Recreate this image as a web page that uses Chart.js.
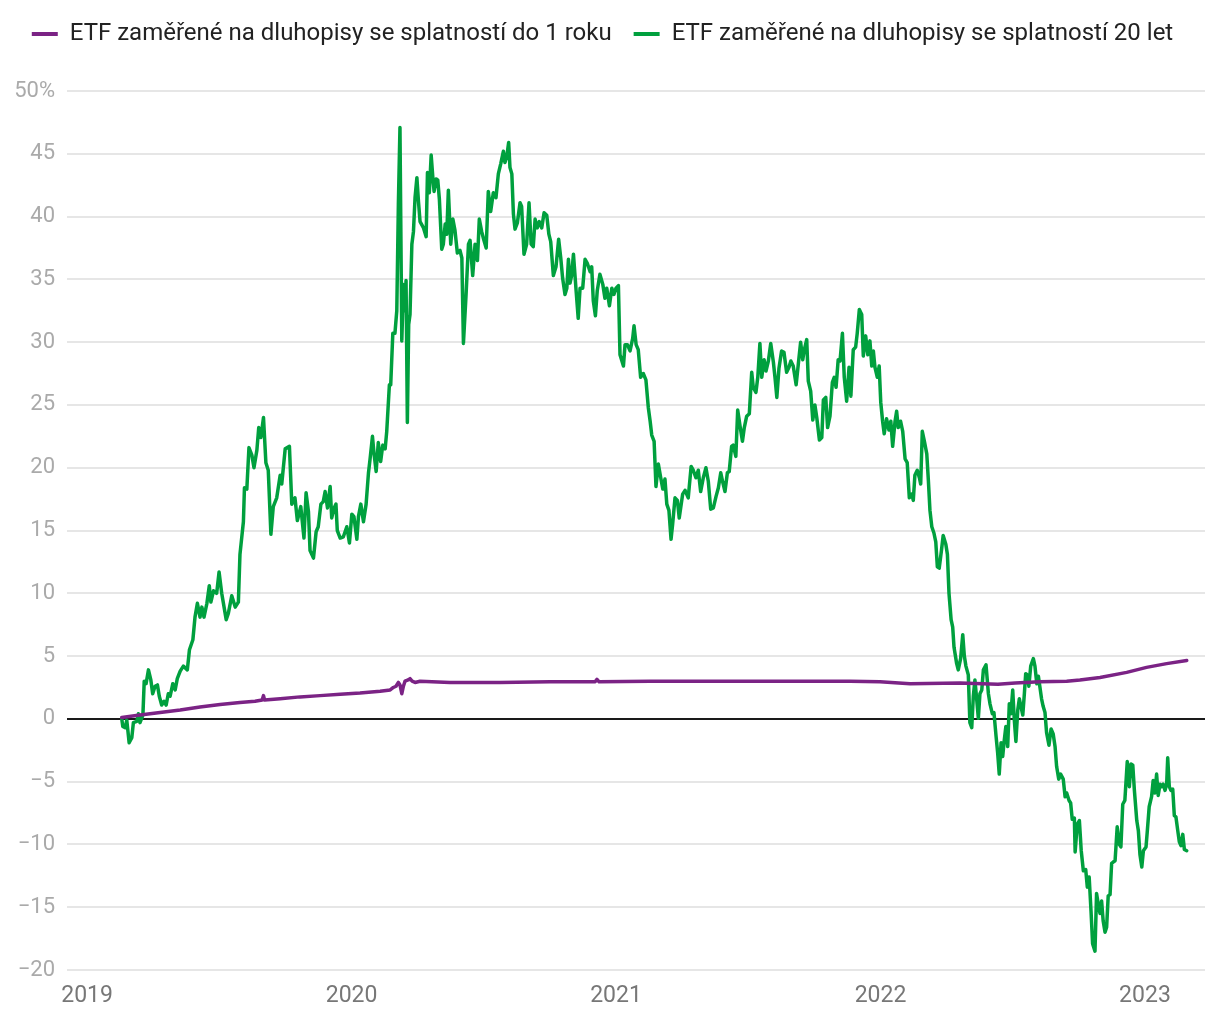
<!DOCTYPE html>
<html lang="cs">
<head>
<meta charset="utf-8">
<title>ETF zaměřené na dluhopisy</title>
<script src="https://cdn.jsdelivr.net/npm/chart.js@4.4.1/dist/chart.umd.min.js"></script>
<style>
  html, body { margin: 0; padding: 0; background: #fff; }
  #wrap { width: 1220px; height: 1020px; }
</style>
</head>
<body>
<div id="wrap"><canvas id="graf" width="1220" height="1020"></canvas></div>
<script>
// --- popisky a osy
const nazevKratke = "ETF zaměřené na dluhopisy se splatností do 1 roku";
const nazevDlouhe = "ETF zaměřené na dluhopisy se splatností 20 let";
const roky = [2019, 2020, 2021, 2022, 2023];
const osaYmin = -20, osaYmax = 50, osaYkrok = 5;

// --- ETF do 1 roku (čas v letech, výnos v %)
const kratkeCas = [2019.131, 2019.200, 2019.276, 2019.352, 2019.427, 2019.503, 2019.578, 2019.635,
  2019.662, 2019.667, 2019.671, 2019.730, 2019.805, 2019.881, 2019.957, 2020.032, 2020.108,
  2020.146, 2020.158, 2020.168, 2020.177, 2020.183, 2020.190, 2020.196, 2020.202, 2020.214,
  2020.221, 2020.229, 2020.240, 2020.259, 2020.372, 2020.561, 2020.751, 2020.921, 2020.928,
  2020.936, 2021.129, 2021.319, 2021.507, 2021.696, 2021.885, 2021.998, 2022.112, 2022.301,
  2022.444, 2022.509, 2022.603, 2022.704, 2022.754, 2022.830, 2022.931, 2023.006, 2023.082, 2023.158];
const kratkeHodnoty = [0.1, 0.3, 0.5, 0.7, 0.95, 1.15, 1.3, 1.4,
  1.5, 1.85, 1.5, 1.6, 1.75, 1.85, 1.95, 2.05, 2.2,
  2.3, 2.5, 2.6, 2.9, 2.7, 2.0, 2.6, 3.0, 3.1,
  3.2, 3.0, 2.9, 3.0, 2.9, 2.9, 2.95, 2.95, 3.15,
  2.95, 3.0, 3.0, 3.0, 3.0, 3.0, 2.95, 2.8, 2.85,
  2.75, 2.85, 2.95, 3.0, 3.1, 3.3, 3.7, 4.1, 4.4, 4.65];

// --- ETF 20 let (čas v letech, výnos v %)
const dlouheCas = [
  2019.131, 2019.135, 2019.144, 2019.150, 2019.159, 2019.169, 2019.175, 2019.188, 2019.194, 2019.200,
  2019.211, 2019.216, 2019.223, 2019.232, 2019.241, 2019.248, 2019.257, 2019.266, 2019.273, 2019.282,
  2019.291, 2019.299, 2019.307, 2019.314, 2019.324, 2019.333, 2019.341, 2019.352, 2019.364, 2019.379,
  2019.387, 2019.400, 2019.408, 2019.417, 2019.427, 2019.434, 2019.442, 2019.453, 2019.462, 2019.468,
  2019.478, 2019.490, 2019.499, 2019.509, 2019.526, 2019.534, 2019.547, 2019.560, 2019.572, 2019.578,
  2019.591, 2019.595, 2019.604, 2019.612, 2019.623, 2019.631, 2019.642, 2019.649, 2019.657, 2019.667,
  2019.676, 2019.685, 2019.695, 2019.704, 2019.717, 2019.730, 2019.736, 2019.749, 2019.765, 2019.774,
  2019.786, 2019.795, 2019.808, 2019.820, 2019.828, 2019.837, 2019.843, 2019.856, 2019.866, 2019.874,
  2019.884, 2019.893, 2019.900, 2019.909, 2019.919, 2019.925, 2019.934, 2019.941, 2019.946, 2019.957,
  2019.969, 2019.982, 2019.992, 2020.001, 2020.009, 2020.020, 2020.026, 2020.035, 2020.045, 2020.055,
  2020.064, 2020.070, 2020.079, 2020.085, 2020.093, 2020.101, 2020.110, 2020.118, 2020.127, 2020.133,
  2020.143, 2020.148, 2020.156, 2020.164, 2020.171, 2020.177, 2020.183, 2020.190, 2020.196, 2020.202,
  2020.206, 2020.211, 2020.216, 2020.221, 2020.228, 2020.234, 2020.240, 2020.247, 2020.253, 2020.259,
  2020.272, 2020.282, 2020.287, 2020.294, 2020.301, 2020.307, 2020.312, 2020.320, 2020.326, 2020.332,
  2020.341, 2020.347, 2020.354, 2020.360, 2020.366, 2020.375, 2020.383, 2020.391, 2020.400, 2020.410,
  2020.417, 2020.423, 2020.433, 2020.442, 2020.448, 2020.458, 2020.467, 2020.476, 2020.483, 2020.492,
  2020.498, 2020.509, 2020.517, 2020.526, 2020.536, 2020.546, 2020.555, 2020.564, 2020.574, 2020.580,
  2020.587, 2020.594, 2020.599, 2020.606, 2020.612, 2020.618, 2020.627, 2020.637, 2020.643, 2020.652,
  2020.662, 2020.671, 2020.679, 2020.687, 2020.694, 2020.702, 2020.710, 2020.719, 2020.728, 2020.738,
  2020.746, 2020.753, 2020.763, 2020.773, 2020.783, 2020.791, 2020.798, 2020.807, 2020.814, 2020.820,
  2020.826, 2020.832, 2020.839, 2020.849, 2020.857, 2020.864, 2020.874, 2020.883, 2020.891, 2020.902,
  2020.908, 2020.914, 2020.922, 2020.929, 2020.939, 2020.950, 2020.958, 2020.965, 2020.975, 2020.984,
  2020.992, 2021.000, 2021.009, 2021.015, 2021.028, 2021.034, 2021.043, 2021.053, 2021.063, 2021.068,
  2021.076, 2021.084, 2021.093, 2021.103, 2021.113, 2021.122, 2021.129, 2021.135, 2021.144, 2021.151,
  2021.160, 2021.169, 2021.177, 2021.185, 2021.192, 2021.200, 2021.208, 2021.214, 2021.223, 2021.232,
  2021.239, 2021.252, 2021.261, 2021.273, 2021.284, 2021.292, 2021.302, 2021.311, 2021.320, 2021.330,
  2021.340, 2021.349, 2021.358, 2021.368, 2021.378, 2021.387, 2021.396, 2021.403, 2021.412, 2021.421,
  2021.428, 2021.437, 2021.443, 2021.453, 2021.460, 2021.469, 2021.478, 2021.485, 2021.494, 2021.504,
  2021.513, 2021.519, 2021.529, 2021.536, 2021.544, 2021.551, 2021.560, 2021.567, 2021.576, 2021.585,
  2021.595, 2021.601, 2021.608, 2021.616, 2021.626, 2021.635, 2021.645, 2021.654, 2021.661, 2021.670,
  2021.681, 2021.689, 2021.698, 2021.706, 2021.712, 2021.721, 2021.727, 2021.736, 2021.744, 2021.752,
  2021.759, 2021.769, 2021.778, 2021.784, 2021.793, 2021.800, 2021.809, 2021.818, 2021.825, 2021.832,
  2021.840, 2021.847, 2021.856, 2021.863, 2021.872, 2021.881, 2021.888, 2021.897, 2021.906, 2021.912,
  2021.920, 2021.929, 2021.935, 2021.944, 2021.952, 2021.960, 2021.967, 2021.973, 2021.979, 2021.988,
  2021.995, 2022.001, 2022.008, 2022.014, 2022.023, 2022.032, 2022.039, 2022.046, 2022.055, 2022.061,
  2022.067, 2022.076, 2022.084, 2022.093, 2022.101, 2022.109, 2022.118, 2022.124, 2022.130, 2022.139,
  2022.147, 2022.152, 2022.158, 2022.166, 2022.175, 2022.181, 2022.187, 2022.194, 2022.202, 2022.209,
  2022.215, 2022.222, 2022.231, 2022.237, 2022.247, 2022.253, 2022.259, 2022.267, 2022.273, 2022.278,
  2022.288, 2022.294, 2022.303, 2022.311, 2022.317, 2022.323, 2022.332, 2022.338, 2022.345, 2022.351,
  2022.357, 2022.364, 2022.370, 2022.376, 2022.383, 2022.389, 2022.399, 2022.408, 2022.414, 2022.423,
  2022.429, 2022.437, 2022.443, 2022.449, 2022.456, 2022.462, 2022.468, 2022.474, 2022.481, 2022.487,
  2022.493, 2022.500, 2022.506, 2022.512, 2022.519, 2022.525, 2022.531, 2022.538, 2022.544, 2022.549,
  2022.555, 2022.561, 2022.568, 2022.578, 2022.584, 2022.591, 2022.597, 2022.603, 2022.609, 2022.615,
  2022.622, 2022.628, 2022.637, 2022.645, 2022.653, 2022.660, 2022.666, 2022.674, 2022.681, 2022.691,
  2022.698, 2022.704, 2022.713, 2022.719, 2022.725, 2022.733, 2022.736, 2022.744, 2022.752, 2022.759,
  2022.767, 2022.776, 2022.782, 2022.789, 2022.796, 2022.802, 2022.811, 2022.817, 2022.823, 2022.830,
  2022.836, 2022.842, 2022.849, 2022.855, 2022.861, 2022.868, 2022.874, 2022.880, 2022.887, 2022.895,
  2022.903, 2022.909, 2022.916, 2022.924, 2022.933, 2022.941, 2022.947, 2022.954, 2022.960, 2022.969,
  2022.975, 2022.981, 2022.988, 2022.994, 2023.004, 2023.009, 2023.016, 2023.025, 2023.031, 2023.038,
  2023.044, 2023.050, 2023.057, 2023.063, 2023.069, 2023.076, 2023.082, 2023.086, 2023.092, 2023.098,
  2023.105, 2023.111, 2023.117, 2023.124, 2023.130, 2023.136, 2023.143, 2023.149, 2023.158];
const dlouheHodnoty = [
  0.0, -0.6, -0.7, -0.1, -1.9, -1.5, -0.3, -0.2, 0.4, -0.3,
  0.3, 3.0, 2.8, 3.9, 3.1, 2.0, 2.6, 2.7, 1.8, 1.1,
  1.4, 1.1, 2.0, 1.8, 2.8, 2.3, 3.2, 3.8, 4.2, 3.9,
  5.5, 6.3, 8.1, 9.2, 8.1, 8.9, 8.1, 9.2, 10.6, 9.3,
  10.2, 10.0, 11.7, 10.0, 7.9, 8.4, 9.8, 8.9, 9.3, 13.1,
  15.7, 18.4, 18.3, 21.6, 21.0, 20.0, 21.4, 23.2, 22.4, 24.0,
  20.4, 19.8, 14.7, 16.9, 17.6, 19.4, 18.7, 21.5, 21.7, 17.1,
  17.6, 15.8, 16.9, 14.4, 18.0, 16.5, 13.4, 12.8, 14.9, 15.3,
  17.1, 17.3, 18.1, 16.8, 18.5, 16.0, 16.8, 17.1, 15.0, 14.4,
  14.5, 15.3, 14.0, 16.3, 16.1, 14.3, 16.1, 17.1, 15.7, 17.1,
  19.6, 20.7, 22.5, 21.1, 19.7, 22.0, 20.5, 21.8, 21.5, 22.9,
  26.6, 26.6, 30.7, 30.7, 32.5, 41.0, 47.1, 30.1, 34.6, 32.5,
  34.9, 23.6, 31.4, 32.2, 37.8, 38.8, 41.5, 43.1, 41.2, 39.6,
  39.1, 38.4, 43.5, 41.9, 44.9, 43.2, 42.0, 43.0, 42.9, 41.4,
  37.4, 37.8, 39.4, 38.6, 42.1, 37.8, 39.8, 38.9, 37.1, 37.3,
  36.7, 29.9, 33.8, 37.8, 38.1, 35.3, 37.8, 36.5, 39.8, 38.8,
  38.3, 37.5, 42.0, 40.4, 41.9, 41.5, 43.4, 44.2, 45.2, 44.3,
  44.8, 45.9, 43.9, 43.4, 40.2, 39.0, 39.5, 41.1, 40.8, 37.0,
  37.8, 41.1, 37.8, 37.6, 39.8, 39.1, 39.6, 39.1, 40.3, 40.1,
  38.6, 38.0, 35.3, 36.0, 38.2, 36.7, 35.1, 33.8, 34.3, 36.6,
  34.7, 35.3, 37.0, 34.1, 31.9, 34.3, 34.3, 36.6, 36.3, 35.6,
  36.0, 33.3, 32.1, 34.1, 35.4, 34.6, 33.5, 34.3, 32.9, 34.3,
  33.8, 34.3, 34.5, 29.0, 28.1, 29.8, 29.8, 29.3, 30.3, 31.3,
  29.8, 29.4, 27.2, 27.5, 27.0, 24.8, 23.7, 22.6, 22.1, 18.5,
  20.3, 19.2, 18.3, 19.1, 17.1, 16.6, 14.3, 15.5, 17.6, 17.4,
  16.0, 17.9, 18.2, 17.6, 20.1, 19.8, 19.2, 19.8, 18.1, 19.2,
  20.0, 18.9, 16.7, 16.8, 17.7, 18.4, 19.6, 18.9, 18.1, 19.6,
  19.7, 21.7, 21.8, 20.9, 24.6, 23.3, 22.1, 23.2, 24.1, 24.3,
  27.6, 26.4, 26.0, 27.2, 29.9, 27.2, 28.6, 27.7, 28.5, 29.9,
  28.4, 27.2, 25.6, 27.9, 29.3, 29.2, 27.6, 28.0, 28.5, 28.1,
  26.6, 28.2, 30.0, 28.6, 29.4, 30.2, 26.9, 26.1, 23.8, 25.0,
  24.0, 22.2, 22.4, 25.4, 25.6, 23.2, 24.1, 26.8, 27.2, 26.4,
  28.6, 28.5, 30.7, 27.2, 25.3, 28.0, 25.7, 29.4, 29.6, 30.7,
  32.6, 32.2, 28.9, 30.5, 29.0, 30.1, 28.1, 29.3, 28.0, 27.2,
  28.1, 25.2, 23.7, 22.7, 23.9, 23.0, 23.7, 21.7, 23.7, 24.5,
  23.2, 23.7, 22.9, 20.7, 20.4, 17.6, 17.9, 17.4, 19.4, 19.8,
  19.2, 18.7, 22.9, 22.1, 21.1, 19.0, 16.6, 15.3, 14.8, 14.1,
  12.1, 12.0, 13.5, 14.6, 13.9, 13.1, 10.0, 7.9, 7.3, 5.7,
  4.4, 3.9, 4.8, 6.7, 5.0, 4.2, 3.5, -0.3, -0.7, 1.8,
  3.1, 1.5, 0.05, 2.0, 2.3, 3.9, 4.3, 2.0, 1.2, 0.4,
  0.5, -1.4, -2.7, -4.4, -1.9, -3.0, -1.7, -0.6, -2.2, 1.2,
  0.4, 2.3, -0.1, -1.8, 0.7, 1.6, 1.0, 0.3, 2.0, 3.6,
  3.5, 2.6, 4.2, 4.8, 4.2, 2.8, 3.4, 2.5, 1.6, 1.0,
  0.5, -1.1, -2.1, -0.8, -1.2, -2.2, -3.8, -4.8, -4.4, -4.8,
  -6.2, -5.9, -6.5, -6.7, -8.0, -7.9, -10.6, -8.4, -8.1, -10.5,
  -12.1, -12.0, -13.4, -12.6, -15.3, -17.9, -18.5, -13.9, -14.7, -15.5,
  -14.5, -16.1, -17.0, -16.6, -14.1, -14.0, -11.5, -11.4, -11.3, -8.6,
  -10.0, -10.2, -6.8, -6.5, -3.4, -5.4, -3.6, -3.7, -5.7, -8.1,
  -8.9, -10.8, -11.8, -10.5, -10.2, -8.9, -7.0, -6.2, -4.9, -5.9,
  -4.4, -6.1, -5.2, -5.4, -5.2, -5.7, -5.2, -3.1, -5.4, -5.7,
  -5.6, -7.7, -7.8, -8.9, -9.8, -10.1, -9.2, -10.4, -10.5];

const fialova = "#7b2385";
const zelena = "#00a03e";

function body(cas, hodnoty) {
  return cas.map((t, i) => ({ x: t, y: hodnoty[i] }));
}

// pevná výška legendy, aby graf začínal tam kde v originále
const vyskaLegendy = {
  id: "vyskaLegendy",
  beforeInit(chart) {
    const puvodni = chart.legend.fit;
    chart.legend.fit = function () {
      puvodni.bind(chart.legend)();
      this.height = 91;
    };
  }
};

Chart.defaults.font.family = "Roboto, 'Noto Sans', sans-serif";

new Chart(document.getElementById("graf"), {
  type: "line",
  data: {
    datasets: [
      {
        label: nazevKratke,
        data: body(kratkeCas, kratkeHodnoty),
        borderColor: fialova,
        backgroundColor: fialova,
        borderWidth: 3.5
      },
      {
        label: nazevDlouhe,
        data: body(dlouheCas, dlouheHodnoty),
        borderColor: zelena,
        backgroundColor: zelena,
        borderWidth: 3.5
      }
    ]
  },
  plugins: [vyskaLegendy],
  options: {
    responsive: false,
    animation: false,
    layout: { padding: { left: 0, right: 15, top: 0, bottom: 0 } },
    elements: {
      point: { radius: 0 },
      line: { tension: 0, borderJoinStyle: "round", borderCapStyle: "round" }
    },
    plugins: {
      tooltip: { enabled: false },
      legend: {
        position: "top",
        labels: {
          color: "#222",
          font: { size: 24 },
          boxWidth: 26,
          boxHeight: 4,
          padding: 22,
          generateLabels(chart) {
            return chart.data.datasets.map((ds, i) => ({
              text: ds.label,
              fillStyle: ds.borderColor,
              strokeStyle: ds.borderColor,
              lineWidth: 0,
              fontColor: "#222",
              datasetIndex: i
            }));
          }
        }
      }
    },
    scales: {
      x: {
        type: "linear",
        min: 2018.924,
        max: 2023.227,
        border: { display: false },
        grid: { display: false, drawTicks: false },
        afterBuildTicks(scale) {
          scale.ticks = roky.map(r => ({ value: r }));
        },
        afterFit(scale) { scale.height = 50; },
        ticks: {
          color: "#777",
          font: { size: 23 },
          padding: 12,
          maxRotation: 0,
          callback: v => String(v)
        }
      },
      y: {
        min: osaYmin,
        max: osaYmax,
        border: { display: false },
        grid: {
          drawTicks: false,
          lineWidth: 2,
          color: ctx => (ctx.tick && ctx.tick.value === 0) ? "#1a1a1a" : "#e6e6e6"
        },
        afterFit(scale) { scale.width = 67; },
        ticks: {
          stepSize: osaYkrok,
          color: "#aaa",
          font: { size: 22 },
          padding: 12,
          callback: v => v === osaYmax ? v + "%" : (v < 0 ? "\u2212" + Math.abs(v) : String(v))
        }
      }
    }
  }
});
</script>
</body>
</html>
